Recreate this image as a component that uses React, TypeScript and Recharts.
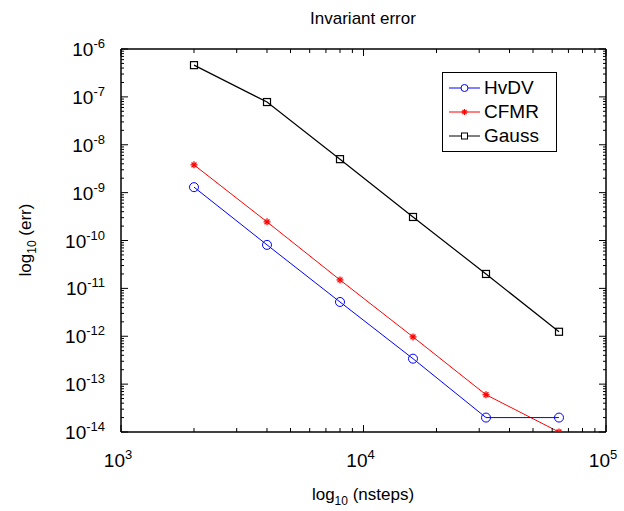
import React from 'react';
import { LineChart, Line, XAxis, YAxis } from 'recharts';

const nsteps = [2000, 4000, 8000, 16000, 32000, 64000];
const hvdv = [1.3e-9, 8.1e-11, 5.2e-12, 3.4e-13, 2.0e-14, 2.0e-14];
const cfmr = [3.8e-9, 2.45e-10, 1.5e-11, 9.7e-13, 6.0e-14, 1.0e-14];
const gauss = [4.6e-7, 7.8e-8, 5.0e-9, 3.1e-10, 2.0e-11, 1.24e-12];

const xDecades = [3, 4, 5];
const yDecades = [-14, -13, -12, -11, -10, -9, -8, -7, -6];

const FONT = '"Liberation Sans", Arial, sans-serif';

// major + minor ticks for a log axis
const logTicks = (decs: number[]) => {
  const out: number[] = [];
  decs.forEach((d, i) => {
    out.push(Math.pow(10, d));
    if (i < decs.length - 1) {
      for (let m = 2; m <= 9; m++) out.push(m * Math.pow(10, d));
    }
  });
  return out;
};

const isMajor = (v: number) => Math.abs(Math.log10(v) - Math.round(Math.log10(v))) < 1e-6;

const data = nsteps.map((n, i) => ({ n, hvdv: hvdv[i], cfmr: cfmr[i], gauss: gauss[i] }));

const Pow = ({ x, y, exp, anchor }: any) => (
  <text x={x} y={y} textAnchor={anchor} fontFamily={FONT} fontSize={19} fill="#000">
    10<tspan dy={-8} fontSize={13}>{exp}</tspan>
  </text>
);

const BottomTick = (props: any) => {
  const { x, y, payload } = props;
  const major = isMajor(payload.value);
  const len = major ? 7 : 4;
  return (
    <g>
      <line x1={x} y1={y} x2={x} y2={y - len} stroke="#000" strokeWidth={1} />
      {major && <Pow x={x - 3} y={y + 35} exp={Math.round(Math.log10(payload.value))} anchor="middle" />}
    </g>
  );
};

const TopTick = (props: any) => {
  const { x, y, payload } = props;
  const len = isMajor(payload.value) ? 7 : 4;
  return <line x1={x} y1={y} x2={x} y2={y + len} stroke="#000" strokeWidth={1} />;
};

const LeftTick = (props: any) => {
  const { x, y, payload } = props;
  const major = isMajor(payload.value);
  const len = major ? 7 : 3;
  return (
    <g>
      <line x1={x} y1={y} x2={x + len} y2={y} stroke="#000" strokeWidth={1} />
      {major && <Pow x={x - 16} y={y + 7} exp={Math.round(Math.log10(payload.value))} anchor="end" />}
    </g>
  );
};

const RightTick = (props: any) => {
  const { x, y, payload } = props;
  const len = isMajor(payload.value) ? 7 : 3;
  return <line x1={x} y1={y} x2={x - len} y2={y} stroke="#000" strokeWidth={1} />;
};

const CircleDot = (props: any) => {
  const { cx, cy } = props;
  if (cx == null || cy == null) return null;
  return <circle cx={cx} cy={cy} r={4.5} fill="none" stroke="#0000ff" strokeWidth={1} />;
};

const StarDot = (props: any) => {
  const { cx, cy } = props;
  if (cx == null || cy == null) return null;
  const r = 3.5;
  return (
    <g stroke="#ff0000" strokeWidth={1.3}>
      <line x1={cx - r} y1={cy} x2={cx + r} y2={cy} />
      <line x1={cx} y1={cy - r} x2={cx} y2={cy + r} />
      <line x1={cx - r * 0.7} y1={cy - r * 0.7} x2={cx + r * 0.7} y2={cy + r * 0.7} />
      <line x1={cx - r * 0.7} y1={cy + r * 0.7} x2={cx + r * 0.7} y2={cy - r * 0.7} />
    </g>
  );
};

const SquareDot = (props: any) => {
  const { cx, cy } = props;
  if (cx == null || cy == null) return null;
  return <rect x={cx - 3.5} y={cy - 3.5} width={7} height={7} fill="none" stroke="#000" strokeWidth={1.2} />;
};

const legendItems = [
  { name: 'HvDV', color: '#0000ff', kind: 'circle' },
  { name: 'CFMR', color: '#ff0000', kind: 'star' },
  { name: 'Gauss', color: '#000000', kind: 'square' },
];

const LegendBox = () => (
  <div
    style={{
      position: 'absolute',
      left: 442,
      top: 72,
      border: '1px solid #000',
      background: '#fff',
      width: 115,
      padding: '3px 0 3px 6px',
      fontFamily: FONT,
      fontSize: 19,
      boxSizing: 'border-box',
    }}
  >
    {legendItems.map((it) => (
      <div key={it.name} style={{ display: 'flex', alignItems: 'center', height: 24 }}>
        <svg width={32} height={14} style={{ marginRight: 3 }}>
          <line x1={0} y1={7} x2={31} y2={7} stroke={it.color} strokeWidth={1} />
          {it.kind === 'circle' && <circle cx={15.5} cy={7} r={3.5} fill="#fff" stroke={it.color} />}
          {it.kind === 'star' && (
            <g stroke={it.color} strokeWidth={1.2}>
              <line x1={12.5} y1={7} x2={18.5} y2={7} />
              <line x1={15.5} y1={4} x2={15.5} y2={10} />
              <line x1={13.4} y1={4.9} x2={17.6} y2={9.1} />
              <line x1={13.4} y1={9.1} x2={17.6} y2={4.9} />
            </g>
          )}
          {it.kind === 'square' && <rect x={12.5} y={4} width={6} height={6} fill="#fff" stroke={it.color} />}
        </svg>
        <span style={{ color: '#000' }}>{it.name}</span>
      </div>
    ))}
  </div>
);

export default function App() {
  const xTicks = logTicks(xDecades);
  const yTicks = logTicks(yDecades);
  return (
    <div style={{ position: 'absolute', left: 0, top: 0, width: 624, height: 511, background: '#fff' }}>
      <LineChart width={624} height={511} data={data} margin={{ top: 39, right: 8, bottom: 49, left: 81 }}>
        <text x={363} y={24} textAnchor="middle" fontFamily={FONT} fontSize={17} fill="#000">
          Invariant error
        </text>
        <text x={363} y={500} textAnchor="middle" fontFamily={FONT} fontSize={17} fill="#000">
          log<tspan dy={5} fontSize={12}>10</tspan>
          <tspan dy={-5}> (nsteps)</tspan>
        </text>
        <text
          x={0}
          y={0}
          transform="translate(31,240) rotate(-90)"
          textAnchor="middle"
          fontFamily={FONT}
          fontSize={17}
          fill="#000"
        >
          log<tspan dy={5} fontSize={12}>10</tspan>
          <tspan dy={-5}> (err)</tspan>
        </text>
        <XAxis
          xAxisId="b"
          dataKey="n"
          type="number"
          scale="log"
          domain={[1e3, 1e5]}
          ticks={xTicks}
          interval={0}
          height={30}
          tickSize={0}
          tickMargin={0}
          tickLine={false}
          tick={<BottomTick />}
          axisLine={{ stroke: '#000', strokeWidth: 1.5 }}
          allowDataOverflow
        />
        <XAxis
          xAxisId="t"
          orientation="top"
          dataKey="n"
          type="number"
          scale="log"
          domain={[1e3, 1e5]}
          ticks={xTicks}
          interval={0}
          height={10}
          tickSize={0}
          tickMargin={0}
          tickLine={false}
          tick={<TopTick />}
          axisLine={{ stroke: '#000', strokeWidth: 1.5 }}
          allowDataOverflow
        />
        <YAxis
          yAxisId="l"
          type="number"
          scale="log"
          domain={[1e-14, 1e-6]}
          ticks={yTicks}
          interval={0}
          width={40}
          tickSize={0}
          tickMargin={0}
          tickLine={false}
          tick={<LeftTick />}
          axisLine={{ stroke: '#000', strokeWidth: 1.5 }}
          allowDataOverflow
        />
        <YAxis
          yAxisId="r"
          orientation="right"
          type="number"
          scale="log"
          domain={[1e-14, 1e-6]}
          ticks={yTicks}
          interval={0}
          width={10}
          tickSize={0}
          tickMargin={0}
          tickLine={false}
          tick={<RightTick />}
          axisLine={{ stroke: '#000', strokeWidth: 1.5 }}
          allowDataOverflow
        />
        <Line
          xAxisId="b"
          yAxisId="l"
          dataKey="gauss"
          stroke="#000"
          strokeWidth={1.2}
          dot={<SquareDot />}
          activeDot={false}
          isAnimationActive={false}
        />
        <Line
          xAxisId="b"
          yAxisId="l"
          dataKey="cfmr"
          stroke="#ff0000"
          strokeWidth={1}
          dot={<StarDot />}
          activeDot={false}
          isAnimationActive={false}
        />
        <Line
          xAxisId="b"
          yAxisId="l"
          dataKey="hvdv"
          stroke="#0000ff"
          strokeWidth={1}
          dot={<CircleDot />}
          activeDot={false}
          isAnimationActive={false}
        />
      </LineChart>
      <LegendBox />
    </div>
  );
}
